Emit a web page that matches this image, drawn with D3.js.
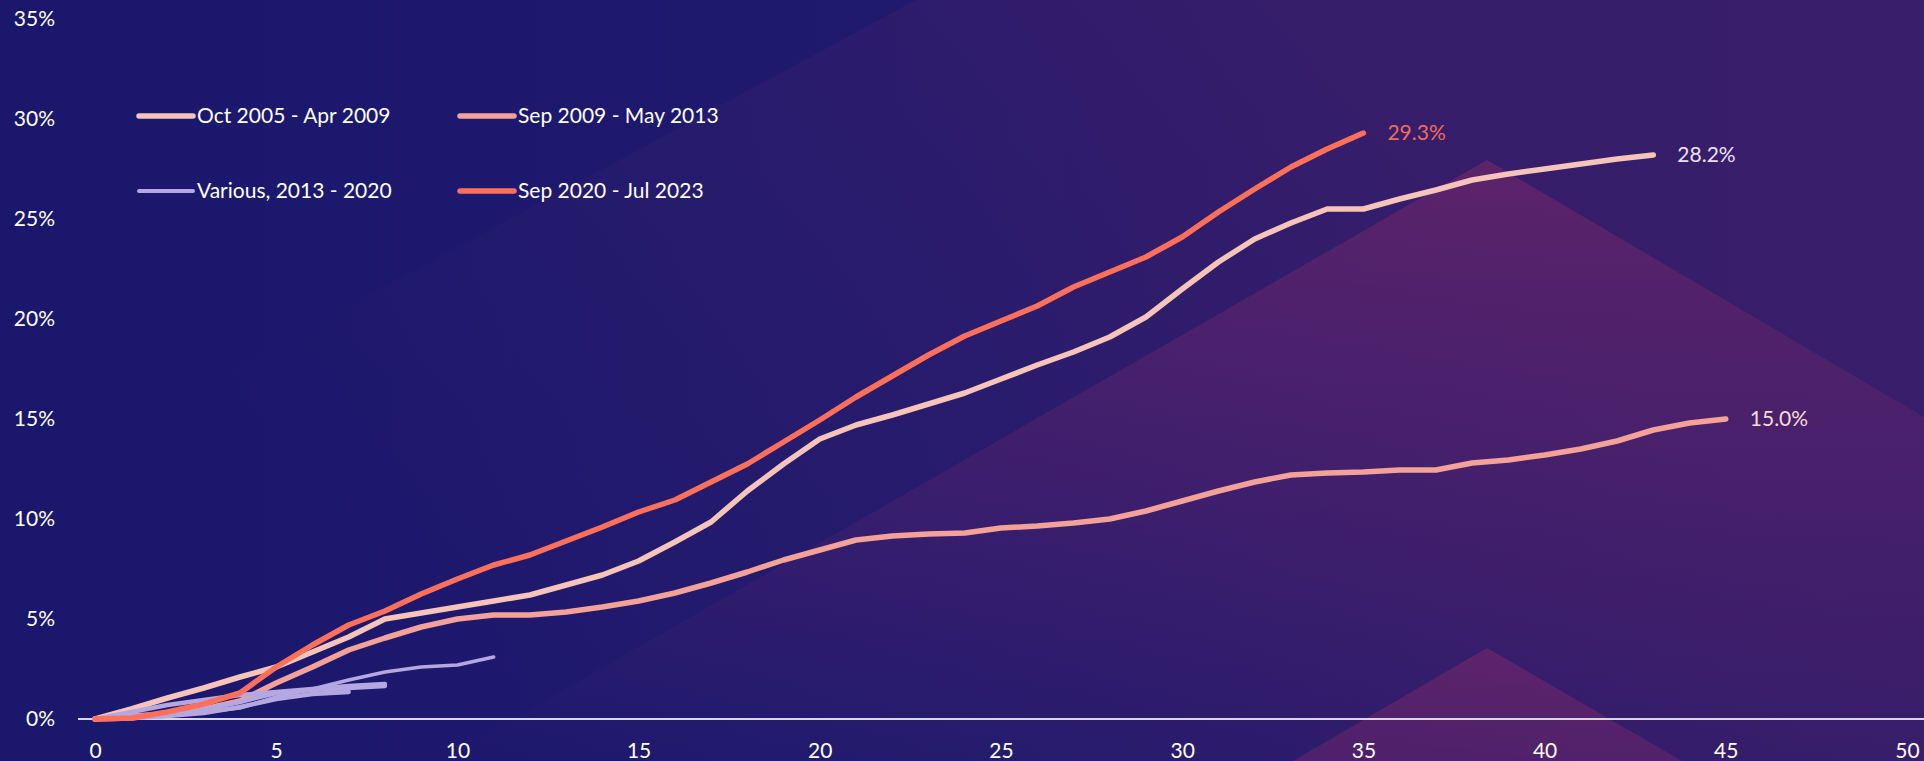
<!DOCTYPE html>
<meta charset="utf-8">
<style>
body {
  margin: 0;
  background: #1b186d;
  overflow: hidden;
}
svg {
  display: block;
}
text {
  font-family: Lato, "Open Sans", sans-serif;
  font-size: 21px;
  fill: #ffffff;
}
.line {
  fill: none;
  stroke-linejoin: round;
  stroke-linecap: round;
}
</style>
<body>
<script src="https://cdnjs.cloudflare.com/ajax/libs/d3/7.8.5/d3.min.js"></script>
<script>

// months since start -> cumulative % (index = month)
var octApr = [0, 0.5, 1.05, 1.55, 2.1, 2.6, 3.35, 4.1, 5.0, 5.3, 5.6, 5.9, 6.2, 6.7, 7.2, 7.9, 8.85, 9.85, 11.4, 12.75,
  14.0, 14.7, 15.2, 15.75, 16.3, 17.0, 17.7, 18.35, 19.1, 20.1, 21.5, 22.85, 24.0, 24.8, 25.5, 25.5, 26.0, 26.45, 26.95, 27.25,
  27.5, 27.75, 28.0, 28.2];
var sepMay = [0, 0.05, 0.25, 0.5, 0.9, 1.8, 2.6, 3.45, 4.05, 4.6, 5.0, 5.2, 5.2, 5.35, 5.6, 5.9, 6.3, 6.8, 7.35, 7.95,
  8.45, 8.95, 9.15, 9.25, 9.3, 9.55, 9.65, 9.8, 10.0, 10.4, 10.9, 11.4, 11.85, 12.2, 12.3, 12.35, 12.45, 12.45, 12.8, 12.95,
  13.2, 13.5, 13.9, 14.45, 14.8, 15.0];
var sepJul = [0, 0.05, 0.35, 0.75, 1.3, 2.6, 3.7, 4.7, 5.4, 6.25, 7.0, 7.7, 8.2, 8.9, 9.6, 10.35, 10.95, 11.85, 12.75, 13.85,
  14.95, 16.1, 17.15, 18.2, 19.15, 19.9, 20.65, 21.6, 22.35, 23.1, 24.1, 25.35, 26.5, 27.6, 28.5, 29.3];
var various1 = [0, 0.2, 0.3, 0.35, 0.55, 1.1, 1.5, 1.95, 2.35, 2.6, 2.7, 3.1];
var various2 = [0, 0.35, 0.7, 0.95, 1.2, 1.35, 1.5, 1.65, 1.75];
var various3 = [0, 0.1, 0.25, 0.5, 0.85, 1.3, 1.45, 1.55, 1.65];
var various4 = [0, 0.05, 0.15, 0.3, 0.6, 1.0, 1.25, 1.35];

var xTicks = [0, 5, 10, 15, 20, 25, 30, 35, 40, 45, 50];
var yTicks = [0, 5, 10, 15, 20, 25, 30, 35];

var width = 1924,
    height = 761;

var svg = d3.select("body").append("svg")
    .attr("width", width)
    .attr("height", height);

var x = d3.scaleLinear().domain([0, 50]).range([95, 1907]);
var y = d3.scaleLinear().domain([0, 35]).range([719, 19]);

/* ------- BACKGROUND ------- */
var defs = svg.append("defs");

var bg = defs.append("linearGradient").attr("id", "bg")
    .attr("x1", 0).attr("x2", 1).attr("y1", 0).attr("y2", 0);
bg.append("stop").attr("offset", 0).attr("stop-color", "#1a176d");
bg.append("stop").attr("offset", 0.5).attr("stop-color", "#201a6e");
bg.append("stop").attr("offset", 1).attr("stop-color", "#2e1b6b");

var half = defs.append("linearGradient").attr("id", "half")
    .attr("gradientUnits", "userSpaceOnUse")
    .attr("x1", 500).attr("y1", 700).attr("x2", 1300).attr("y2", 0);
half.append("stop").attr("offset", 0).attr("stop-color", "#3a1e6a").attr("stop-opacity", 0);
half.append("stop").attr("offset", 0.55).attr("stop-color", "#3a1e6a").attr("stop-opacity", 0.35);
half.append("stop").attr("offset", 1).attr("stop-color", "#3a1e6a").attr("stop-opacity", 0.8);

var tri = defs.append("linearGradient").attr("id", "tri")
    .attr("gradientUnits", "userSpaceOnUse")
    .attr("x1", 0).attr("x2", 0).attr("y1", 160).attr("y2", 761);
tri.append("stop").attr("offset", 0).attr("stop-color", "#8a2a6a").attr("stop-opacity", 0.45);
tri.append("stop").attr("offset", 0.6).attr("stop-color", "#7a2870").attr("stop-opacity", 0.2);
tri.append("stop").attr("offset", 1).attr("stop-color", "#6a2670").attr("stop-opacity", 0);

var tri2 = defs.append("linearGradient").attr("id", "tri2")
    .attr("gradientUnits", "userSpaceOnUse")
    .attr("x1", 0).attr("x2", 0).attr("y1", 648).attr("y2", 761);
tri2.append("stop").attr("offset", 0).attr("stop-color", "#8a2a6a").attr("stop-opacity", 0.45);
tri2.append("stop").attr("offset", 1).attr("stop-color", "#8a2a6a").attr("stop-opacity", 0.35);

svg.append("rect").attr("width", width).attr("height", height).attr("fill", "url(#bg)");

// lighter purple half plane on the right
svg.append("path")
    .attr("d", "M916,0L1924,0L1924,761L-493,761Z")
    .attr("fill", "url(#half)");

svg.append("path")
    .attr("d", "M1487,160L1924,417L1924,761L440,761Z")
    .attr("fill", "url(#tri)");

svg.append("path")
    .attr("d", "M1487,648L1682,761L1293,761Z")
    .attr("fill", "url(#tri2)");

/* ------- AXES ------- */
svg.append("line")
    .attr("x1", 78).attr("x2", width)
    .attr("y1", y(0)).attr("y2", y(0))
    .attr("stroke", "#d9d9d9")
    .attr("stroke-width", 2);

var yAxis = svg.append("g")
    .attr("transform", "translate(" + x(0) + ",0)")
    .call(d3.axisLeft(y).tickValues(yTicks).tickSize(0).tickPadding(40)
        .tickFormat(function(d) { return d + "%"; }));

var xAxis = svg.append("g")
    .attr("transform", "translate(0," + y(0) + ")")
    .call(d3.axisBottom(x).tickValues(xTicks).tickSize(0).tickPadding(24));

svg.selectAll(".domain").remove();
svg.selectAll(".tick text")
    .style("fill", "#ffffff")
    .style("font-family", "Lato, sans-serif")
    .style("font-size", "21px");

/* ------- LINES ------- */
var line = d3.line()
    .x(function(d, i) { return x(i); })
    .y(function(d) { return y(d); });

var series = [
    {values: octApr, color: "#f6c4b9", w: 5.5},
    {values: sepMay, color: "#f4a198", w: 5.5},
    {values: various4, color: "#b5a8e1", w: 4.5},
    {values: various3, color: "#b5a8e1", w: 4.5},
    {values: various2, color: "#b5a8e1", w: 4.5},
    {values: various1, color: "#b5a8e1", w: 3.5},
    {values: sepJul, color: "#ff705a", w: 5.5}
];

svg.append("g").selectAll("path")
    .data(series)
    .enter().append("path")
    .attr("class", "line")
    .attr("d", function(d) { return line(d.values); })
    .attr("stroke", function(d) { return d.color; })
    .attr("stroke-width", function(d) { return d.w; });

/* ------- END LABELS ------- */
var endLabels = [
    {values: sepJul, color: "#f26b5a"},
    {values: octApr, color: "#ebe2f2"},
    {values: sepMay, color: "#f7dcd7"}
];

svg.append("g").selectAll("text")
    .data(endLabels)
    .enter().append("text")
    .attr("x", function(d) { return x(d.values.length - 1) + 24; })
    .attr("y", function(d) { return y(d.values[d.values.length - 1]); })
    .attr("dy", "0.35em")
    .style("fill", function(d) { return d.color; })
    .text(function(d) { return d.values[d.values.length - 1].toFixed(1) + "%"; });

/* ------- LEGEND ------- */
var legendItems = [
    {label: "Oct 2005 - Apr 2009", color: "#f6c4b9", col: 0, row: 0},
    {label: "Sep 2009 - May 2013", color: "#f4a198", col: 1, row: 0},
    {label: "Various, 2013 - 2020", color: "#b5a8e1", col: 0, row: 1},
    {label: "Sep 2020 - Jul 2023", color: "#ff705a", col: 1, row: 1}
];

var legend = svg.append("g").selectAll("g")
    .data(legendItems)
    .enter().append("g")
    .attr("transform", function(d) {
        return "translate(" + (139 + d.col * 321) + "," + (116 + d.row * 75) + ")";
    });

legend.append("line")
    .attr("x1", 0).attr("x2", 54)
    .attr("stroke", function(d) { return d.color; })
    .attr("stroke-width", function(d) { return d.row == 1 && d.col == 0 ? 4 : 5.5; })
    .attr("stroke-linecap", "round");

legend.append("text")
    .attr("x", 58)
    .attr("dy", "0.35em")
    .text(function(d) { return d.label; });

</script>
</body>
